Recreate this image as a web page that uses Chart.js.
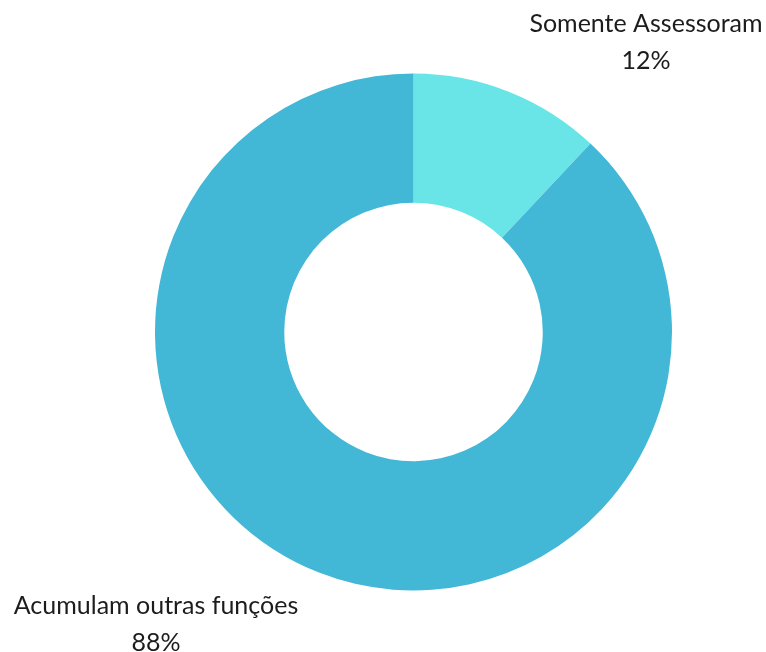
<!DOCTYPE html>
<html>
<head>
<meta charset="utf-8">
<script src="https://cdn.jsdelivr.net/npm/chart.js@4"></script>
<style>
  html, body { margin: 0; padding: 0; background: #fff; }
  #wrap { width: 766px; height: 652px; }
</style>
</head>
<body>
<div id="wrap"><canvas id="donut"></canvas></div>
<script>
var labels = ['Somente Assessoram', 'Acumulam outras funções'];
var values = [12, 88];
var colors = ['#69E5E8', '#42B7D6'];

// label text placed outside the ring, like the original
var labelPos = [
    { x: 646, y: 24 },
    { x: 156, y: 606 }
];

var outsideLabels = {
    id: 'outsideLabels',
    afterDraw: function(chart) {
        var ctx = chart.ctx;
        ctx.save();
        ctx.fillStyle = '#1c1c1c';
        ctx.font = '25px Lato, "Open Sans", sans-serif';
        ctx.textAlign = 'center';
        ctx.textBaseline = 'middle';
        labels.forEach(function(label, i) {
            var p = labelPos[i];
            ctx.fillText(label, p.x, p.y);
            ctx.fillText(values[i] + '%', p.x, p.y + 37);
        });
        ctx.restore();
    }
};

var ctx = document.getElementById('donut').getContext('2d');
new Chart(ctx, {
    type: 'doughnut',
    data: {
        labels: labels,
        datasets: [{
            data: values,
            backgroundColor: colors,
            borderWidth: 0
        }]
    },
    options: {
        responsive: true,
        maintainAspectRatio: false,
        animation: false,
        cutout: '50%',
        layout: {
            padding: { left: 155, right: 94, top: 73, bottom: 61 }
        },
        plugins: {
            legend: { display: false },
            tooltip: { enabled: false }
        }
    },
    plugins: [outsideLabels]
});
</script>
</body>
</html>
